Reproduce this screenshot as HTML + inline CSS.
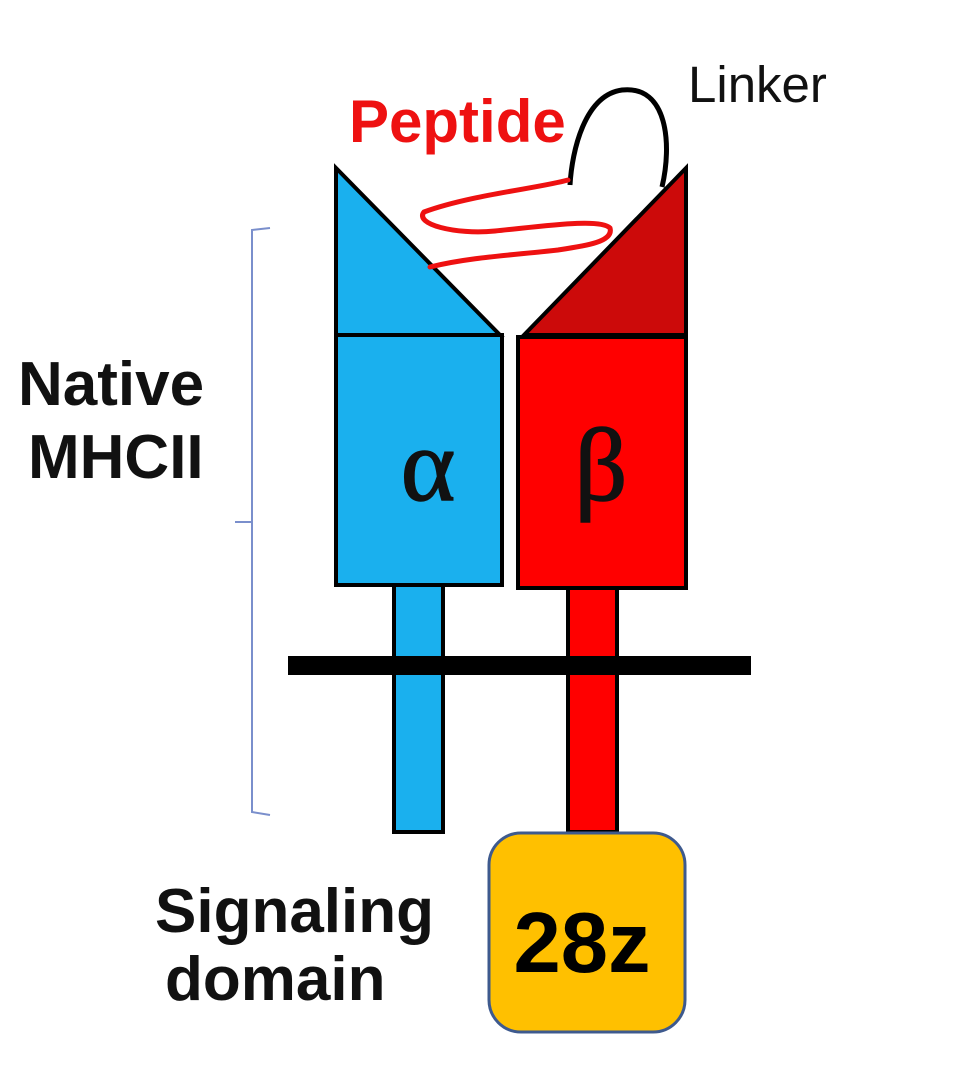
<!DOCTYPE html>
<html><head><meta charset="utf-8"><style>
html,body{margin:0;padding:0;background:#fff;}
svg{display:block;}
</style></head><body>
<svg width="959" height="1081" viewBox="0 0 959 1081" xmlns="http://www.w3.org/2000/svg">
<path d="M270,228 L252,230 L252,812 L270,815" fill="none" stroke="#7a8fcc" stroke-width="2"/>
<line x1="235" y1="522" x2="252" y2="522" stroke="#7a8fcc" stroke-width="2"/>
<polygon points="336,168 336,335 500,335" fill="#1ab0ee" stroke="#000" stroke-width="4"/>
<rect x="336" y="335" width="166" height="250" fill="#1ab0ee" stroke="#000" stroke-width="4"/>
<rect x="394" y="585" width="49" height="247" fill="#1ab0ee" stroke="#000" stroke-width="4"/>
<polygon points="686,168 686,335 524,335" fill="#cc0a0a" stroke="#000" stroke-width="4"/>
<rect x="518" y="337" width="168" height="251" fill="#ff0000" stroke="#000" stroke-width="4"/>
<rect x="568" y="588" width="49" height="244" fill="#ff0000" stroke="#000" stroke-width="4"/>
<rect x="288" y="656" width="463" height="19" fill="#000"/>
<rect x="489" y="833" width="196" height="199" rx="32" fill="#ffc000" stroke="#3e5a8e" stroke-width="3"/>
<text x="582" y="972" font-family="Liberation Sans, sans-serif" font-weight="bold" font-size="85" text-anchor="middle" fill="#000">28z</text>
<text x="428" y="500" font-family="Liberation Serif, serif" font-size="104" text-anchor="middle" fill="#111" stroke="#111" stroke-width="1.5">α</text>
<text x="601" y="500" font-family="Liberation Serif, serif" font-size="104" text-anchor="middle" fill="#111" stroke="#111" stroke-width="1.5">β</text>
<path d="M570,185 C572,150 585,95 622,90 C668,85 672,145 662,187" fill="none" stroke="#000" stroke-width="5"/>
<path d="M568,180 C540,188 470,195 424,212 C414,224 455,235 495,231 C545,226 600,218 610,228 C614,242 585,246 558,250 C515,255 470,257 430,267" fill="none" stroke="#ee1111" stroke-width="5" stroke-linecap="round"/>
<text x="349" y="142" font-family="Liberation Sans, sans-serif" font-weight="bold" font-size="60" fill="#ee1111">Peptide</text>
<text x="688" y="102" font-family="Liberation Sans, sans-serif" font-size="51" fill="#111">Linker</text>
<text x="18" y="405" font-family="Liberation Sans, sans-serif" font-weight="bold" font-size="62" fill="#111">Native</text>
<text x="28" y="478" font-family="Liberation Sans, sans-serif" font-weight="bold" font-size="62" fill="#111">MHCII</text>
<text x="155" y="932" font-family="Liberation Sans, sans-serif" font-weight="bold" font-size="62" fill="#111">Signaling</text>
<text x="165" y="1000" font-family="Liberation Sans, sans-serif" font-weight="bold" font-size="62" fill="#111">domain</text>
</svg>
</body></html>
